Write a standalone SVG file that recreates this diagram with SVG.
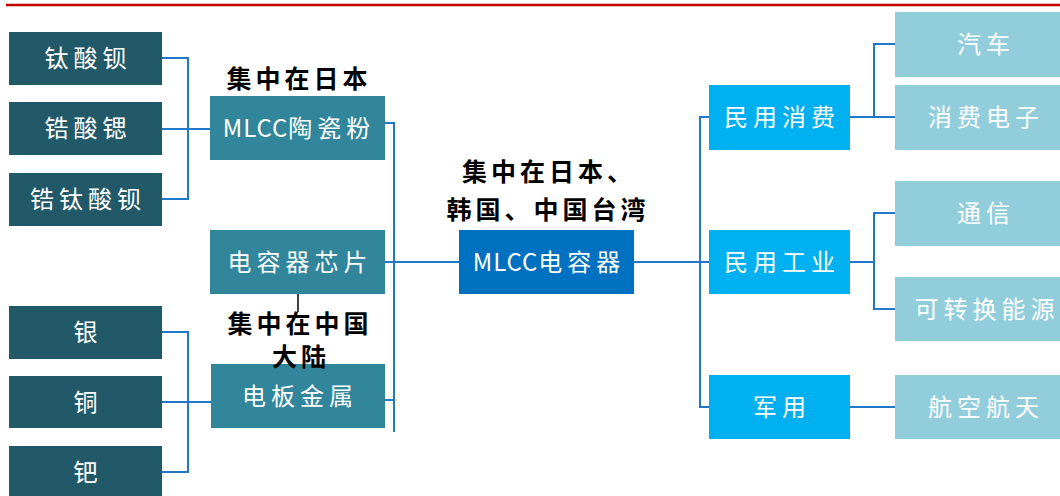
<svg xmlns="http://www.w3.org/2000/svg" width="1060" height="496" viewBox="0 0 1060 496">
<style>
.t{font-family:"Noto Sans CJK SC","Liberation Sans",sans-serif;font-size:24px;fill:#fff;text-anchor:middle;letter-spacing:5px}
.t tspan{letter-spacing:1px}
.lb{font-family:"Noto Sans CJK SC","Liberation Sans",sans-serif;font-size:25px;font-weight:700;fill:#000;text-anchor:middle;letter-spacing:4px}
.c{fill:none;stroke:#1F78C8;stroke-width:2}
.d{fill:#215968}
.m{fill:#31869B}
.b{fill:#0070C0}
.s{fill:#00B0F0}
.l{fill:#92CDDC}
</style>
<rect width="1060" height="496" fill="#fff"/>
<line x1="6" y1="5" x2="1060" y2="5" stroke="#C00000" stroke-width="2.5"/>
<g id="connectors">
<polyline class="c" points="162,58 188,58 188,199 162,199"/>
<line class="c" x1="162" y1="129" x2="210" y2="129"/>
<polyline class="c" points="162,332 188,332 188,472 162,472"/>
<line class="c" x1="162" y1="402" x2="211" y2="402"/>
<polyline class="c" points="385,123 394,123 394,432"/>
<line class="c" x1="385" y1="262" x2="459" y2="262"/>
<line class="c" x1="385" y1="400" x2="394" y2="400"/>
<line class="c" x1="634" y1="262" x2="709" y2="262"/>
<polyline class="c" points="709,117 700,117 700,407 709,407"/>
<polyline class="c" points="895,44 874,44 874,117 895,117"/>
<line class="c" x1="850" y1="117" x2="874" y2="117"/>
<polyline class="c" points="895,213 874,213 874,309 895,309"/>
<line class="c" x1="850" y1="262" x2="874" y2="262"/>
<line class="c" x1="850" y1="407" x2="895" y2="407"/>
<line x1="298" y1="294" x2="298" y2="312" stroke="#000" stroke-width="1.5"/>
</g>
<g id="n-taisuanbei"><rect class="d" x="9" y="32" width="153" height="53"/><text class="t" x="88" y="67">钛酸钡</text></g>
<g id="n-gaosuansi"><rect class="d" x="9" y="102" width="153" height="53"/><text class="t" x="88" y="137">锆酸锶</text></g>
<g id="n-gaotaisuanbei"><rect class="d" x="9" y="173" width="153" height="53"/><text class="t" x="88" y="208">锆钛酸钡</text></g>
<g id="n-yin"><rect class="d" x="9" y="306" width="153" height="53"/><text class="t" x="88" y="341">银</text></g>
<g id="n-tong"><rect class="d" x="9" y="376" width="153" height="52"/><text class="t" x="88" y="411">铜</text></g>
<g id="n-ba"><rect class="d" x="9" y="446" width="153" height="54"/><text class="t" x="88" y="481">钯</text></g>
<g id="n-ciqifen"><rect class="m" x="210" y="96" width="175" height="64"/><text class="t" x="299" y="137"><tspan>MLCC</tspan>陶瓷粉</text></g>
<g id="n-xinpian"><rect class="m" x="210" y="230" width="175" height="64"/><text class="t" x="300" y="271">电容器芯片</text></g>
<g id="n-jinshu"><rect class="m" x="211" y="364" width="174" height="64"/><text class="t" x="300" y="405">电板金属</text></g>
<g id="n-mlcc"><rect class="b" x="459" y="230" width="175" height="64"/><text class="t" x="549" y="271"><tspan>MLCC</tspan>电容器</text></g>
<g id="n-minyongxiaofei"><rect class="s" x="709" y="85" width="141" height="65"/><text class="t" x="782" y="126">民用消费</text></g>
<g id="n-minyonggongye"><rect class="s" x="709" y="230" width="141" height="64"/><text class="t" x="782" y="271">民用工业</text></g>
<g id="n-junyong"><rect class="s" x="709" y="375" width="141" height="64"/><text class="t" x="782" y="416">军用</text></g>
<g id="n-qiche"><rect class="l" x="895" y="12" width="175" height="65"/><text class="t" x="986" y="53">汽车</text></g>
<g id="n-xiaofeidianzi"><rect class="l" x="895" y="85" width="175" height="65"/><text class="t" x="986" y="126">消费电子</text></g>
<g id="n-tongxin"><rect class="l" x="895" y="181" width="175" height="65"/><text class="t" x="986" y="222">通信</text></g>
<g id="n-nengyuan"><rect class="l" x="895" y="277" width="175" height="64"/><text class="t" x="987" y="318">可转换能源</text></g>
<g id="n-hangkong"><rect class="l" x="895" y="375" width="175" height="64"/><text class="t" x="986" y="416">航空航天</text></g>
<g id="labels">
<text class="lb" x="299" y="88">集中在日本</text>
<text class="lb" x="549" y="181">集中在日本、</text>
<text class="lb" x="548" y="219">韩国、中国台湾</text>
<text class="lb" x="300" y="333">集中在中国</text>
<text class="lb" x="301" y="366">大陆</text>
</g>
</svg>
